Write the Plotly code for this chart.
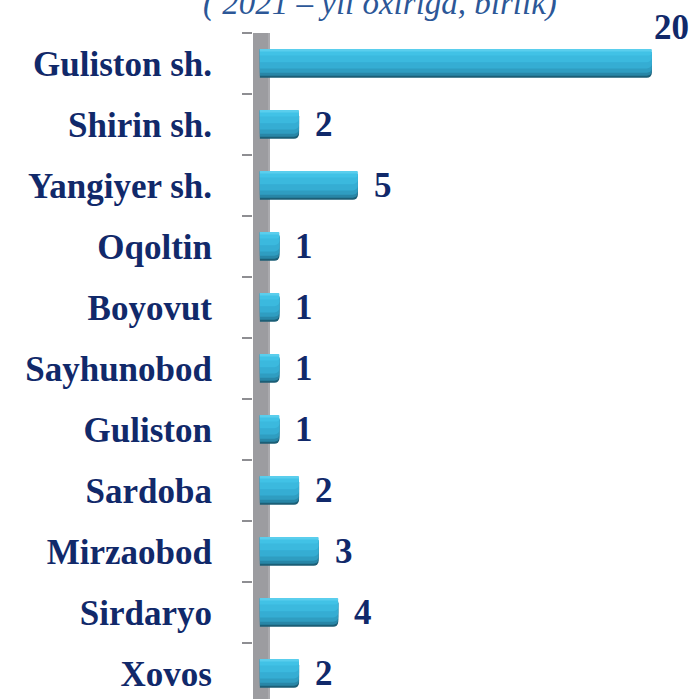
import plotly.graph_objects as go

categories = ["Guliston sh.", "Shirin sh.", "Yangiyer sh.", "Oqoltin", "Boyovut",
              "Sayhunobod", "Guliston", "Sardoba", "Mirzaobod", "Sirdaryo", "Xovos"]
values = [20, 2, 5, 1, 1, 1, 1, 2, 3, 4, 2]
title_text = "( 2021 – yil oxiriga, birlik)"

NAVY = "#11296A"
W, H = 694, 699
ML, MT = 253, 33
X0 = -0.35
XSCALE = 19.6
XMAX = X0 + (W - ML) / XSCALE
CAT_PX = 61.0
YBOT = -0.5 + (H - MT) / CAT_PX

fig = go.Figure()

# stacked layers (same bar, drawn several times) give a vertical shading
layers = [
    (0.465, -0.23, "#1B5E76"),
    (0.43, -0.23, "#2886A7"),
    (0.38, -0.23, "#2F9DC1"),
    (0.31, -0.23, "#35ADD3"),
    (0.21, -0.23, "#3BB9DE"),
    (0.10, -0.23, "#41C2E6"),
    (0.03, -0.225, "#5ACEED"),
]
for wdt, off, col in layers:
    fig.add_trace(go.Bar(
        x=values, y=categories, orientation="h",
        width=wdt, offset=off,
        marker=dict(color=col, line=dict(width=0), cornerradius=5),
        hoverinfo="skip", showlegend=False,
    ))

fig.update_layout(
    barmode="overlay",
    width=W, height=H,
    margin=dict(l=ML, r=0, t=MT, b=0, pad=0),
    paper_bgcolor="white", plot_bgcolor="white",
    showlegend=False,
    xaxis=dict(range=[X0, XMAX], visible=False, showgrid=False, zeroline=False),
    yaxis=dict(
        type="category", categoryorder="array", categoryarray=categories,
        range=[YBOT, -0.5],
        tickson="boundaries", ticks="outside", ticklen=10, tickwidth=2,
        tickcolor="#8E8E92", showline=False, showgrid=False, zeroline=False,
        ticklabelstandoff=40,
        tickfont=dict(family="Liberation Serif", size=35, color=NAVY, weight="bold"),
    ),
)

# 3D wall behind the bars
fig.add_shape(type="rect", xref="paper", yref="paper", x0=0, x1=17 / (W - ML),
              y0=0, y1=1, fillcolor="#9C9CA0", line=dict(width=0), layer="below")
fig.add_shape(type="line", xref="paper", yref="paper", x0=16 / (W - ML), x1=16 / (W - ML),
              y0=0, y1=1, line=dict(color="#B8B8BC", width=1), layer="below")

# value labels
for cat, v in zip(categories, values):
    end_px = ML + (v - X0) * XSCALE
    over = end_px + 15 + 40 > W
    fig.add_annotation(
        x=v, y=cat, text=f"<b>{v}</b>", showarrow=False,
        xanchor="left", yanchor="middle",
        xshift=0 if over else 14, yshift=36 if over else 0,
        font=dict(family="Liberation Serif", size=35, color=NAVY),
    )

# title (partially cropped at top, as in the reference)
fig.add_annotation(
    xref="paper", yref="paper", x=(380 - ML) / (W - ML), y=1 + (MT - 3) / (H - MT),
    text=f"<i>{title_text}</i>", showarrow=False, xanchor="center", yanchor="middle",
    font=dict(family="Liberation Serif", size=33, color="#2C5797"),
)

fig.write_html(
    "out.html",
    config={"displayModeBar": False},
    post_script="document.body.style.margin='0';document.body.style.overflow='hidden';",
)
